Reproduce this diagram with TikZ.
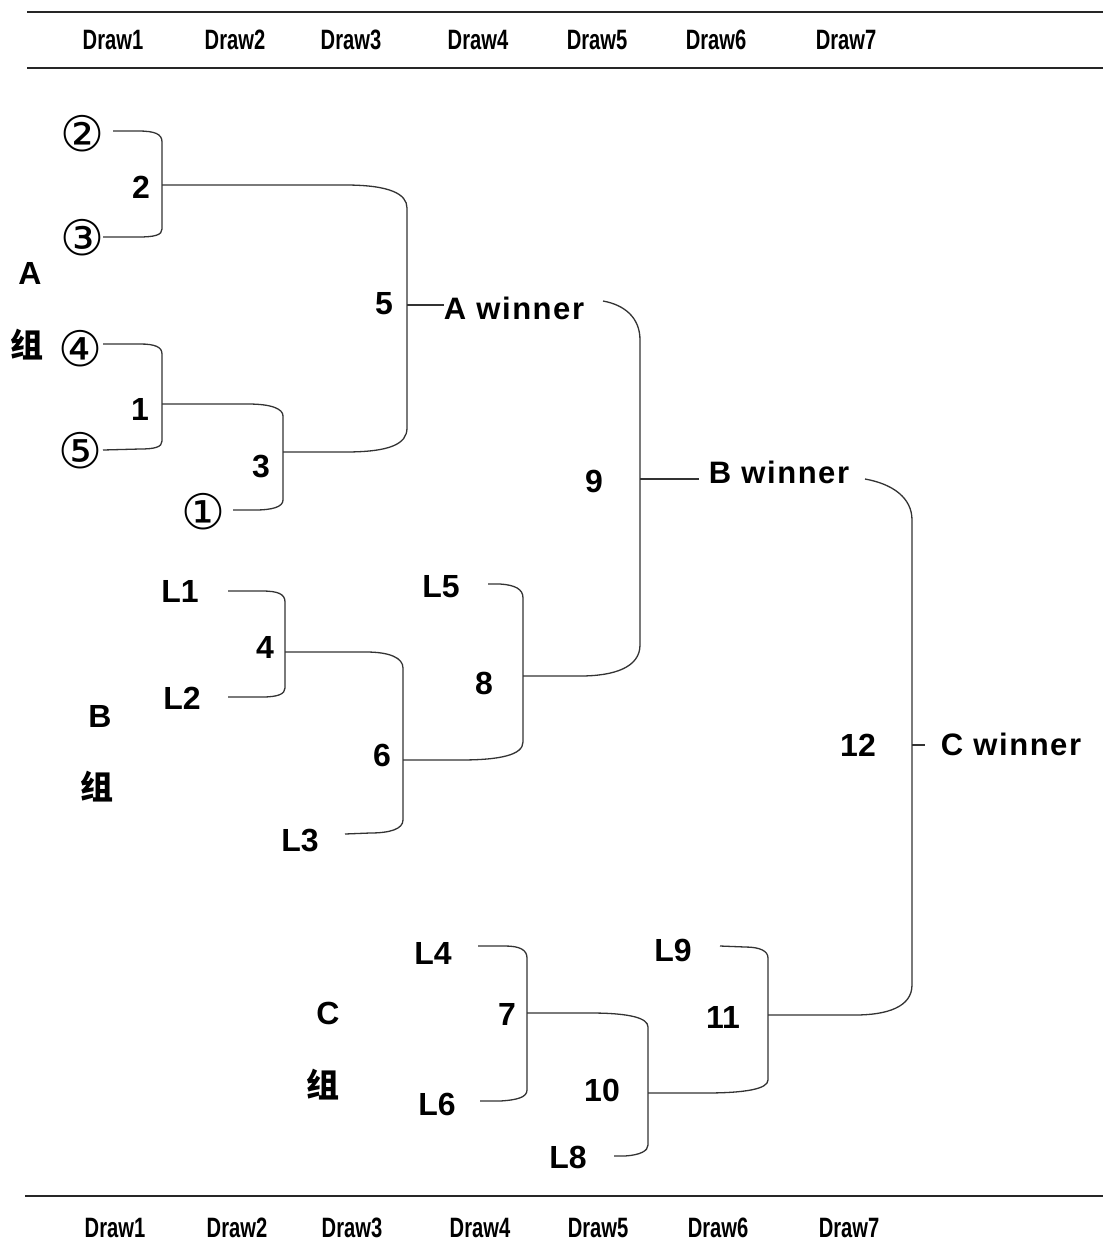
\documentclass[tikz,border=0pt]{standalone}
\usepackage{fontspec}
\setmainfont{Liberation Sans}
\newfontfamily\drawfont{Liberation Sans}[FakeStretch=0.72]
\newfontfamily\winfont{Liberation Sans}[LetterSpace=5]
\newfontfamily\circfont{DejaVu Sans}
\newfontfamily\cjkfont{Noto Sans CJK SC}
\begin{document}
\begin{tikzpicture}[x=1pt,y=-1pt,
  br/.style={line width=1.3pt,draw=black!80},
  rule/.style={line width=2pt,draw=black!85},
  lab/.style={font=\fontsize{32}{34}\selectfont\bfseries,inner sep=0pt},
  win/.style={font=\fontsize{31}{34}\selectfont\winfont\bfseries,inner sep=0pt},
  circ/.style={font=\fontsize{49}{50}\selectfont\circfont,inner sep=0pt},
  grp/.style={font=\fontsize{33}{35}\selectfont\cjkfont\bfseries,inner sep=0pt},
  hdr/.style={font=\fontsize{28}{30}\selectfont\drawfont\bfseries,inner sep=0pt}]
\useasboundingbox (0,0) rectangle (1103,1251);
% rules
\coordinate (r1a) at (27,12); \coordinate (r1b) at (1103,12);
\coordinate (r2a) at (27,68); \coordinate (r2b) at (1103,68);
\coordinate (r3a) at (25,1196); \coordinate (r3b) at (1103,1196);
\draw[rule] (r1a) -- (r1b);
\draw[rule] (r2a) -- (r2b);
\draw[rule] (r3a) -- (r3b);
% header labels
\foreach \i/\x in {1/113,2/235,3/351,4/478,5/597,6/716,7/846}
  \node[hdr] (t\i) at (\x,40) {Draw\i};
\foreach \i/\x in {1/115,2/237,3/352,4/480,5/598,6/718,7/849}
  \node[hdr] (b\i) at (\x,1228) {Draw\i};
% group labels
\node[lab] (gA) at (30,273) {A};
\node[grp] (gAz) at (27,345) {组};
\node[lab] (gB) at (100,716) {B};
\node[grp] (gBz) at (97,787) {组};
\node[lab] (gC) at (328,1013) {C};
\node[grp] (gCz) at (323,1085) {组};
% A group entries
\node[circ] (c2) at (82,134) {②};
\node[circ] (c3) at (82,238) {③};
\node[circ] (c4) at (80,349) {④};
\node[circ] (c5) at (80,451) {⑤};
\node[circ] (c1) at (203,512) {①};
\node[lab] (n2) at (141,187) {2};
\node[lab] (n1) at (140,409) {1};
\node[lab] (n3) at (261,466) {3};
\node[lab] (n5) at (384,304) {5};
\node[win] (aw) at (514,308) {A winner};
% B group
\node[lab] (L1) at (180,591) {L1};
\node[lab] (L2) at (182,698) {L2};
\node[lab] (L3) at (300,840) {L3};
\node[lab] (L5) at (441,587) {L5};
\node[lab] (n4) at (265,647) {4};
\node[lab] (n6) at (382,755) {6};
\node[lab] (n8) at (484,683) {8};
\node[lab] (n9) at (594,481) {9};
\node[win] (bw) at (779,472) {B winner};
% C group
\node[lab] (L4) at (433,953) {L4};
\node[lab] (L6) at (437,1104) {L6};
\node[lab] (L8) at (568,1157) {L8};
\node[lab] (L9) at (673,950) {L9};
\node[lab] (n7) at (507,1014) {7};
\node[lab] (n10) at (602,1090) {10};
\node[lab] (n11) at (723,1017) {11};
\node[lab] (n12) at (858,745) {12};
\node[win] (cw) at (1011,744) {C winner};
% junction coordinates
\coordinate (j2) at (162,185);
\coordinate (j1) at (162,404);
\coordinate (j3) at (283,452);
\coordinate (j5) at (407,305);
\coordinate (j9) at (640,479);
\coordinate (j12) at (912,745);
\coordinate (j4) at (285,652);
\coordinate (j6) at (403,760);
\coordinate (j8) at (523,676);
\coordinate (j7) at (527,1013);
\coordinate (j10) at (648,1093);
\coordinate (j11) at (768,1015);
% bracket 2
\draw[br] (113,131) -- (138,131) .. controls (155,131) and (162,134) .. (162,142) -- (162,229) .. controls (162,235) and (155,237) .. (138,237) -- (103,237);
% 2 -> 5
\draw[br] (j2) -- (345,185) .. controls (390,185) and (407,194) .. (407,208) -- (407,428) .. controls (407,444) and (390,452) .. (345,452) -- (j3);
% bracket 1
\draw[br] (103,344) -- (140,344) .. controls (155,344) and (162,347) .. (162,354) -- (162,441) .. controls (162,447) and (155,449) .. (140,449) -- (103,450);
% 1 -> 3
\draw[br] (j1) -- (248,404) .. controls (272,404) and (283,409) .. (283,416) -- (283,500) .. controls (283,507) and (272,510) .. (255,510) -- (233,510);
% 5 -> A winner
\draw[br] (j5) -- (aw.west |- j5);
% A winner -> 9
\draw[br] (603,301) .. controls (625,305) and (640,318) .. (640,340) -- (640,645) .. controls (640,667) and (615,676) .. (580,676) -- (j8);
% 9 -> B winner
\draw[br] (j9) -- ([xshift=-10pt]bw.west |- j9);
% B winner -> 12
\draw[br] (865,479) .. controls (893,484) and (912,498) .. (912,520) -- (912,985) .. controls (912,1007) and (887,1015) .. (855,1015) -- (j11);
% 12 tick
\draw[br] (j12) -- (925,745);
% bracket 4
\draw[br] (228,591) -- (262,591) .. controls (278,591) and (285,594) .. (285,602) -- (285,688) .. controls (285,694) and (278,697) .. (262,697) -- (228,697);
% 4 -> 6
\draw[br] (j4) -- (366,652) .. controls (390,652) and (403,658) .. (403,668) -- (403,820) .. controls (403,829) and (390,833) .. (370,833) -- (345,834);
% 6 -> 8 with L5
\draw[br] (j6) -- (460,760) .. controls (500,760) and (523,755) .. (523,742) -- (523,598) .. controls (523,589) and (515,585) .. (500,584) -- (488,584);
% bracket 7
\draw[br] (478,946) -- (505,946) .. controls (520,946) and (527,950) .. (527,958) -- (527,1090) .. controls (527,1097) and (518,1100) .. (500,1101) -- (480,1101);
% 7 -> 10
\draw[br] (j7) -- (590,1013) .. controls (630,1013) and (648,1018) .. (648,1027) -- (648,1145) .. controls (648,1151) and (640,1155) .. (625,1156) -- (614,1156);
% 10 -> 11 with L9
\draw[br] (j10) -- (705,1093) .. controls (745,1093) and (768,1089) .. (768,1080) -- (768,958) .. controls (768,951) and (760,947) .. (745,947) -- (720,946);
\end{tikzpicture}
\end{document}
